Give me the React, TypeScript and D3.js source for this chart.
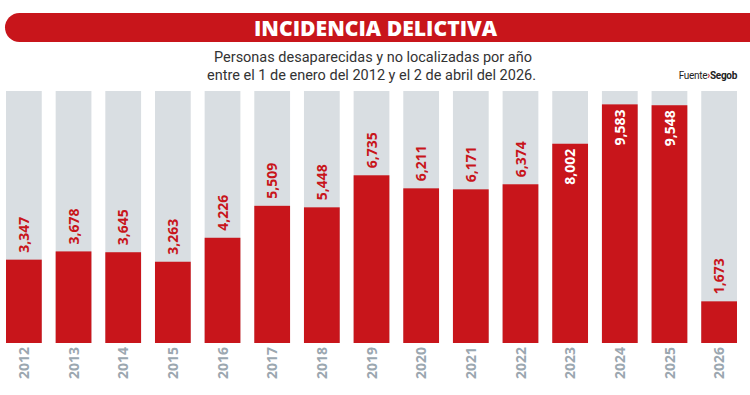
import * as d3 from 'd3'

const years = ['2012', '2013', '2014', '2015', '2016', '2017', '2018', '2019', '2020', '2021', '2022', '2023', '2024', '2025', '2026']
const cases = [3347, 3678, 3645, 3263, 4226, 5509, 5448, 6735, 6211, 6171, 6374, 8002, 9583, 9548, 1673]
const titleText = 'INCIDENCIA DELICTIVA'
const subtitleLines = ['Personas desaparecidas y no localizadas por año', 'entre el 1 de enero del 2012 y el 2 de abril del 2026.']

const W = 750
const H = 395
const RED = '#c8151b'
const GRAY_BG = '#d9dee2'
const YEAR_GRAY = '#9ba7b0'
const yTop = 10120 // value at top of the gray columns
const insideFrom = 7000 // labels above this go inside the bar

const fmt = d3.format(',')

export default function App() {
  const x = d3.scaleBand<string>().domain(years).range([6, 737]).paddingInner(0.28).paddingOuter(0)
  const y = d3.scaleLinear().domain([0, yTop]).range([343, 91])
  const bw = x.bandwidth()

  return (
    <div style={{ position: 'absolute', left: 0, top: 0 }}>
      <svg width={W} height={H} style={{ display: 'block', background: '#fff' }}>
        {/* header banner */}
        <rect x={5} y={13} width={W + 20} height={29} rx={14.5} fill={RED} />
        <text
          x={375.5}
          y={36}
          textAnchor="middle"
          fill="#fff"
          fontFamily="'Open Sans', sans-serif"
          fontWeight={800}
          fontSize={21}
          textLength={243}
          lengthAdjust="spacingAndGlyphs"
        >
          {titleText}
        </text>

        {subtitleLines.map((t, i) => (
          <text
            key={i}
            x={i === 0 ? 373 : 371.5}
            y={62 + i * 18}
            textAnchor="middle"
            fill="#333"
            fontFamily="Roboto, sans-serif"
            fontSize={15}
            textLength={i === 0 ? 318 : 329}
            lengthAdjust="spacingAndGlyphs"
          >
            {t}
          </text>
        ))}

        <text
          x={737}
          y={79}
          textAnchor="end"
          fontFamily="Roboto, sans-serif"
          fontSize={10}
          fill="#222"
          letterSpacing={-0.3}
        >
          Fuente
          <tspan fill={RED} fontWeight={700}>›</tspan>
          <tspan fontWeight={700}>Segob</tspan>
        </text>

        {years.map((yr, i) => {
          const v = cases[i]
          const x0 = x(yr) as number
          const cx = x0 + bw / 2
          const top = y(v)
          const inside = v > insideFrom
          const ly = inside ? top + 5 : top - 7
          return (
            <g key={yr}>
              <rect x={x0} y={y(yTop)} width={bw} height={y(0) - y(yTop)} fill={GRAY_BG} />
              <rect x={x0} y={top} width={bw} height={y(0) - top} fill={RED} />
              <text
                transform={`translate(${cx},${ly}) rotate(-90)`}
                dy="0.36em"
                textAnchor={inside ? 'end' : 'start'}
                fill={inside ? '#fff' : RED}
                fontFamily="'Open Sans', sans-serif"
                fontWeight={700}
                fontSize={14}
              >
                {fmt(v)}
              </text>
              <text
                transform={`translate(${cx},347) rotate(-90)`}
                dy="0.36em"
                textAnchor="end"
                fill={YEAR_GRAY}
                fontFamily="'Open Sans', sans-serif"
                fontWeight={700}
                fontSize={14}
              >
                {yr}
              </text>
            </g>
          )
        })}
      </svg>
    </div>
  )
}
